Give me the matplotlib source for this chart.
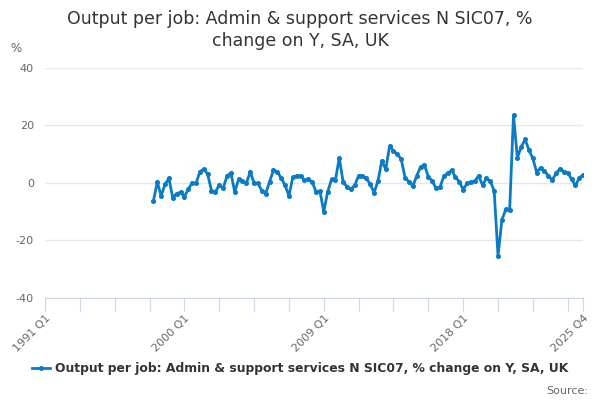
import matplotlib
matplotlib.use("Agg")
import matplotlib.pyplot as plt

plt.rcParams["axes.unicode_minus"] = False

# quarterly series, 1998 Q1 .. 2025 Q4 (axis runs from 1991 Q1)
first_year = 1991
start_index = 28  # 1998 Q1
values = [
    -6.4, 0.2, -4.6, -0.6, 1.5, -5.3, -3.8, -3.4, -4.9, -2.3, -0.1, -0.3,
    3.8, 4.7, 3.0, -2.8, -3.2, -0.9, -2.0, 2.3, 3.4, -3.2, 1.1, 0.6,
    -0.3, 3.8, -0.1, -0.3, -2.8, -3.8, 0.3, 4.3, 3.8, 1.5,
    -0.9, -4.6, 1.8, 2.4, 2.3, 0.9, 1.1, 0.3, -3.2, -3.0, -10.1, -3.2,
    1.1, 0.9, 8.6, 0.1, -1.4, -2.3, -0.9, 2.4, 2.4, 1.5, -0.6, -3.5,
    0.6, 7.6, 4.6, 12.7, 11.1, 9.9, 8.1, 1.7, 0.3,
    -1.2, 2.3, 5.5, 6.1, 2.0, 0.6, -2.0, -1.7, 2.3, 3.2, 4.3, 2.0,
    0.3, -2.4, -0.3, 0.2, 0.5, 2.4, -0.9, 1.5, 0.5, -2.8, -25.5, -13.0,
    -9.3, -9.6, 23.5, 8.6, 12.5, 15.0, 11.3, 8.4, 3.5, 5.2, 4.0, 2.4,
    0.9, 3.2, 4.9, 3.8, 3.5, 1.2, -1.0, 1.7, 2.6,
]
n_quarters = 140  # 1991 Q1 .. 2025 Q4
labelled_ticks = [0, 36, 72, 108, 139]
y_ticks = [-40, -20, 0, 20, 40]

series_name = "Output per job: Admin & support services N SIC07, % change on Y, SA, UK"
title = "Output per job: Admin & support services N SIC07, %\nchange on Y, SA, UK"


def quarter_label(i):
    return f"{first_year + i // 4} Q{i % 4 + 1}"


x = list(range(start_index, start_index + len(values)))

fig = plt.figure(figsize=(6, 4), dpi=100)
ax = fig.add_axes([0.075, 0.256, 0.897, 0.575])

ax.plot(x, values, color="#0a7bc4", lw=2, marker="o", ms=2.6,
        label=series_name, zorder=3)

ax.set_xlim(0, n_quarters - 1)
ax.set_ylim(-40, 40)
ax.set_yticks(y_ticks)
ax.grid(axis="y", color="#e6e6e6", lw=1)
ax.tick_params(axis="y", length=0, labelsize=8, labelcolor="#666666", pad=8)

minor = list(range(0, n_quarters, 9)) + [n_quarters - 1]
ax.set_xticks(minor)
ax.set_xticklabels([quarter_label(i) if i in labelled_ticks else "" for i in minor],
                   rotation=45, ha="right", rotation_mode="anchor")
ax.tick_params(axis="x", length=9, color="#ccd6eb", labelsize=8,
               labelcolor="#666666", pad=2)

for side in ["top", "right", "left"]:
    ax.spines[side].set_visible(False)
ax.spines["bottom"].set_color("#ccd6eb")

fig.text(0.5, 0.975, title, ha="center", va="top", fontsize=12.5,
         color="#333333", linespacing=1.3)
fig.text(0.017, 0.87, "%", fontsize=8.5, color="#666666")

leg = fig.legend(loc="lower center", bbox_to_anchor=(0.5, 0.035), frameon=False,
                 prop={"size": 8.9, "weight": "bold"}, handlelength=1.5,
                 handletextpad=0.4)
for t in leg.get_texts():
    t.set_color("#333333")

fig.text(0.98, 0.01, "Source:", ha="right", va="bottom", fontsize=8,
         color="#666666")

fig.savefig("out.png", dpi=100)
